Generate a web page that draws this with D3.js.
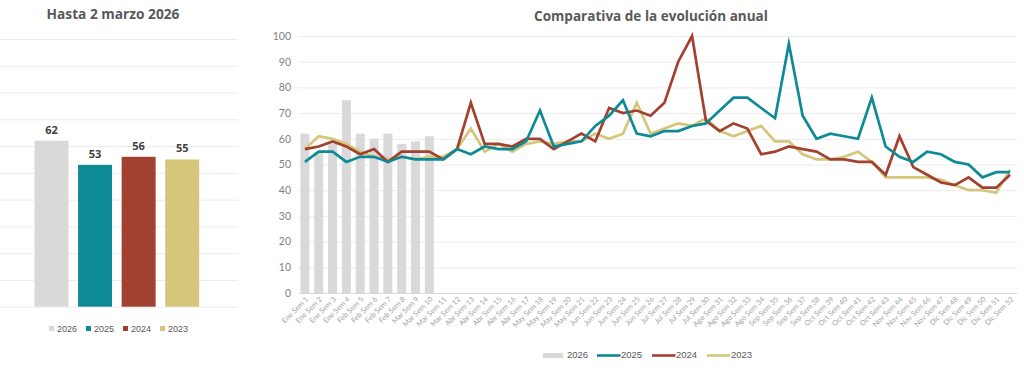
<!DOCTYPE html>
<html>
<head>
<meta charset="utf-8">
<script src="https://cdn.jsdelivr.net/npm/d3@7/dist/d3.min.js"></script>
<style>
  html, body { margin: 0; padding: 0; background: #ffffff; }
  svg { display: block; }
</style>
</head>
<body>
<svg id="chart" width="1024" height="374"></svg>
<script>
// ---------------- DATA ----------------
const summaryYears = ["2026", "2025", "2024", "2023"];
const summaryValues = [62, 53, 56, 55];

const weekLabels = [
  "Ene Sem 1","Ene Sem 2","Ene Sem 3","Ene Sem 4","Feb Sem 5","Feb Sem 6","Feb Sem 7","Feb Sem 8",
  "Mar Sem 9","Mar Sem 10","Mar Sem 11","Mar Sem 12","Abr Sem 13","Abr Sem 14","Abr Sem 15","Abr Sem 16",
  "Abr Sem 17","May Sem 18","May Sem 19","May Sem 20","May Sem 21","Jun Sem 22","Jun Sem 23","Jun Sem 24",
  "Jun Sem 25","Jun Sem 26","Jul Sem 27","Jul Sem 28","Jul Sem 29","Jul Sem 30","Ago Sem 31","Ago Sem 32",
  "Ago Sem 33","Ago Sem 34","Sep Sem 35","Sep Sem 36","Sep Sem 37","Sep Sem 38","Oct Sem 39","Oct Sem 40",
  "Oct Sem 41","Oct Sem 42","Oct Sem 43","Nov Sem 44","Nov Sem 45","Nov Sem 46","Nov Sem 47","Dic Sem 48",
  "Dic Sem 49","Dic Sem 50","Dic Sem 51","Dic Sem 52"
];

const values2026 = [62, 55, 58, 75, 62, 60, 62, 58, 59, 61];

const values2025 = [51,55,55,51,53,53,51,53,52,52,52,56,54,57,56,56,59,71,57,58,59,65,69,75,62,61,
                    63,63,65,66,71,76,76,72,68,97,69,60,62,61,60,76,57,53,51,55,54,51,50,45,47,47];
const values2024 = [56,57,59,57,54,56,51,55,55,55,52,56,74,58,58,57,60,60,56,59,62,59,72,70,71,69,
                    74,90,100,67,63,66,64,54,55,57,56,55,52,52,51,51,46,61,49,46,43,42,45,41,41,46];
const values2023 = [56,61,60,58,55,53,52,53,52,53,53,56,64,55,58,55,58,59,58,59,59,62,60,62,74,62,
                    64,66,65,68,63,61,63,65,59,59,54,52,52,53,55,51,45,45,45,45,44,42,40,40,39,48];

const yTicks = [0,10,20,30,40,50,60,70,80,90,100];

const colors = { "2026": "#d9d9d9", "2025": "#0e8a96", "2024": "#a2412f", "2023": "#d5c679" };

// ---------------- SETUP ----------------
const svg = d3.select("#chart");
const gridColor = "#ececec";
const titleColor = "#595959";

function fitText(sel, target) {
  const node = sel.node();
  const w = node.getComputedTextLength();
  const fs = parseFloat(sel.attr("font-size"));
  if (w > 0) sel.attr("font-size", (fs * target / w).toFixed(2));
}

// ---------------- LEFT CHART ----------------
const L = { x0: 0, x1: 238, yTop: 39, yBottom: 306.7 };
const ly = d3.scaleLinear().domain([0, 100]).range([L.yBottom, L.yTop]);
const lx = d3.scaleBand().domain(summaryYears).range([29.7, 204]).paddingInner(0.22).paddingOuter(0.11);

const lg = svg.append("g");
lg.selectAll("line.grid").data(yTicks).join("line")
  .attr("x1", L.x0).attr("x2", L.x1)
  .attr("y1", d => ly(d) + 0.5).attr("y2", d => ly(d) + 0.5)
  .attr("stroke", gridColor).attr("stroke-width", 1);

lg.selectAll("rect.bar").data(summaryYears).join("rect")
  .attr("x", d => lx(d)).attr("width", lx.bandwidth())
  .attr("y", (d, i) => ly(summaryValues[i]))
  .attr("height", (d, i) => ly(0) - ly(summaryValues[i]))
  .attr("fill", d => colors[d]);

lg.selectAll("text.val").data(summaryYears).join("text")
  .attr("x", d => lx(d) + lx.bandwidth() / 2)
  .attr("y", (d, i) => ly(summaryValues[i]) - 7)
  .attr("text-anchor", "middle")
  .attr("font-family", "'Open Sans', Arial, sans-serif")
  .attr("font-weight", "bold").attr("font-size", 11)
  .attr("fill", "#404040")
  .text((d, i) => summaryValues[i]);

const t1 = lg.append("text")
  .attr("x", 113).attr("y", 19).attr("text-anchor", "middle")
  .attr("font-family", "'Open Sans', Arial, sans-serif")
  .attr("font-weight", "bold").attr("font-size", 14)
  .attr("fill", titleColor).text("Hasta 2 marzo 2026");
fitText(t1, 133);

// left legend
const llegX = [49, 86, 123, 160];
const llg = lg.selectAll("g.leg").data(summaryYears).join("g")
  .attr("transform", (d, i) => `translate(${llegX[i]},0)`);
llg.append("rect").attr("x", 0).attr("y", 326).attr("width", 5).attr("height", 5)
  .attr("fill", d => colors[d]);
llg.append("text").attr("x", 8).attr("y", 331.7)
  .attr("font-family", "'Liberation Sans', Arial, sans-serif")
  .attr("font-size", 9).attr("fill", "#595959").text(d => d);

// ---------------- RIGHT CHART ----------------
const R = { x0: 298, x1: 1017, yTop: 36, yBottom: 293 };
const ry = d3.scaleLinear().domain([0, 100]).range([R.yBottom, R.yTop]);
const rx = d3.scaleBand().domain(weekLabels).range([R.x0, R.x1]).paddingInner(0.35).paddingOuter(0.175);
const cx = d => rx(d) + rx.bandwidth() / 2;

const rg = svg.append("g");

rg.selectAll("line.grid").data(yTicks.filter(d => d > 0)).join("line")
  .attr("x1", R.x0).attr("x2", R.x1)
  .attr("y1", d => ry(d) + 0.5).attr("y2", d => ry(d) + 0.5)
  .attr("stroke", gridColor).attr("stroke-width", 1);

// y axis labels via d3 axis
const yAxis = d3.axisLeft(ry).tickValues(yTicks).tickSize(0).tickPadding(0);
const yAxisG = rg.append("g").attr("transform", `translate(${291},0)`).call(yAxis);
yAxisG.select(".domain").remove();
yAxisG.selectAll("text")
  .attr("font-family", "Lato, 'Open Sans', sans-serif")
  .attr("font-size", 10.5).attr("fill", "#7f7f7f");

// bars 2026
rg.selectAll("rect.bar").data(values2026).join("rect")
  .attr("x", (d, i) => rx(weekLabels[i])).attr("width", rx.bandwidth())
  .attr("y", d => ry(d)).attr("height", d => ry(0) - ry(d))
  .attr("fill", colors["2026"]);

// x axis
const xAxis = d3.axisBottom(rx).tickSize(0).tickPadding(0);
const xAxisG = rg.append("g").attr("transform", `translate(0,${R.yBottom})`).call(xAxis);
xAxisG.select(".domain").attr("stroke", "#d9d9d9").attr("stroke-width", 1);
xAxisG.selectAll("text")
  .attr("font-family", "Lato, 'Open Sans', sans-serif")
  .attr("font-size", 7.3).attr("fill", "#a3a3a3")
  .attr("text-anchor", "end")
  .attr("dy", "0.35em")
  .attr("transform", "translate(2,5) rotate(-45)");

// lines
const lineGen = d3.line().x((d, i) => cx(weekLabels[i])).y(d => ry(d));
[["2023", values2023], ["2024", values2024], ["2025", values2025]].forEach(([k, vals]) => {
  rg.append("path").datum(vals)
    .attr("d", lineGen)
    .attr("fill", "none")
    .attr("stroke", colors[k])
    .attr("stroke-width", 2.7)
    .attr("stroke-linejoin", "miter")
    .attr("stroke-miterlimit", 10);
});

const t2 = rg.append("text")
  .attr("x", 651).attr("y", 21).attr("text-anchor", "middle")
  .attr("font-family", "'Open Sans', Arial, sans-serif")
  .attr("font-weight", "bold").attr("font-size", 14)
  .attr("fill", titleColor).text("Comparativa de la evolución anual");
fitText(t2, 234);

// right legend
const rlegX = [543, 597, 652, 707];
const rlg = rg.selectAll("g.leg").data(summaryYears).join("g")
  .attr("transform", (d, i) => `translate(${rlegX[i]},0)`);
rlg.each(function (d, i) {
  const g = d3.select(this);
  if (i === 0) {
    g.append("rect").attr("x", 0).attr("y", 353).attr("width", 20).attr("height", 5).attr("fill", colors[d]);
    g.append("text").attr("x", 24).attr("y", 358.3)
      .attr("font-family", "'Liberation Sans', Arial, sans-serif")
      .attr("font-size", 9.5).attr("fill", "#595959").text(d);
  } else {
    g.append("line").attr("x1", 0).attr("x2", 23.5).attr("y1", 355.5).attr("y2", 355.5)
      .attr("stroke", colors[d]).attr("stroke-width", 2.6);
    g.append("text").attr("x", 24).attr("y", 358.3)
      .attr("font-family", "'Liberation Sans', Arial, sans-serif")
      .attr("font-size", 9.5).attr("fill", "#595959").text(d);
  }
});
</script>
</body>
</html>
